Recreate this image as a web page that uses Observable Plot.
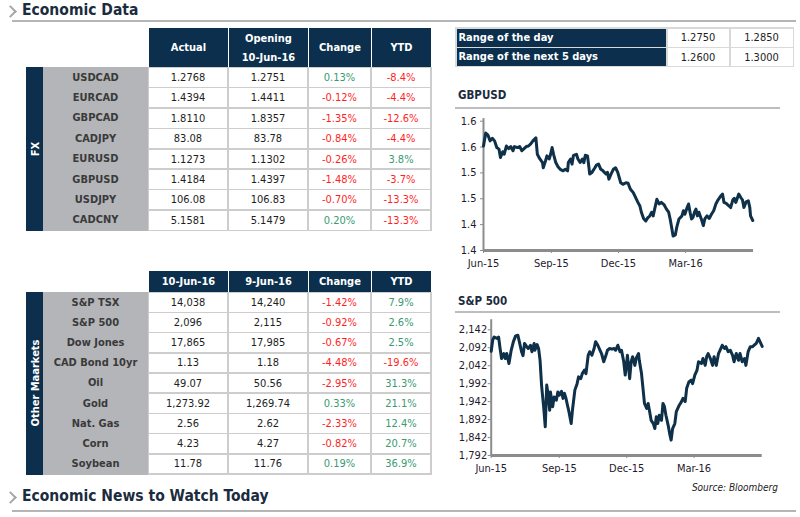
<!DOCTYPE html>
<html><head><meta charset="utf-8">
<script src="https://cdn.jsdelivr.net/npm/d3@7"></script>
<script src="https://cdn.jsdelivr.net/npm/@observablehq/plot@0.6"></script>
<style>
body{margin:0;background:#fff;}
#page{position:relative;width:800px;height:517px;overflow:hidden;background:#fff;
  font-family:"DejaVu Sans Condensed","DejaVu Sans",sans-serif;font-stretch:condensed;}
.abs{position:absolute;box-sizing:border-box;}
.ctr{display:flex;align-items:center;justify-content:center;text-align:center;white-space:nowrap;}
.chev{position:absolute;width:7px;height:7px;border-top:2.5px solid #a6a6a6;border-right:2.5px solid #a6a6a6;transform:rotate(45deg);}
.h1{position:absolute;font-weight:bold;font-size:15.5px;color:#1b2c3e;white-space:nowrap;}
</style></head>
<body><div id="page"></div>
<script>
// ---------------- data ----------------
const fxPairs   = ["USDCAD","EURCAD","GBPCAD","CADJPY","EURUSD","GBPUSD","USDJPY","CADCNY"];
const fxActual  = ["1.2768","1.4394","1.8110","83.08","1.1273","1.4184","106.08","5.1581"];
const fxOpening = ["1.2751","1.4411","1.8357","83.78","1.1302","1.4397","106.83","5.1479"];
const fxChange  = [0.13,-0.12,-1.35,-0.84,-0.26,-1.48,-0.70,0.20];
const fxYtd     = [-8.4,-4.4,-12.6,-4.4,3.8,-3.7,-13.3,-13.3];
const fxHeaders = [["Actual"],["Opening","10-Jun-16"],["Change"],["YTD"]];

const mktNames   = ["S&P TSX","S&P 500","Dow Jones","CAD Bond 10yr","Oil","Gold","Nat. Gas","Corn","Soybean"];
const mktToday   = ["14,038","2,096","17,865","1.13","49.07","1,273.92","2.56","4.23","11.78"];
const mktPrev    = ["14,240","2,115","17,985","1.18","50.56","1,269.74","2.62","4.27","11.76"];
const mktChange  = [-1.42,-0.92,-0.67,-4.48,-2.95,0.33,-2.33,-0.82,0.19];
const mktYtd     = [7.9,2.6,2.5,-19.6,31.3,21.1,12.4,20.7,36.9];
const mktHeaders = [["10-Jun-16"],["9-Jun-16"],["Change"],["YTD"]];

const rangeLabels = ["Range of the day","Range of the next 5 days"];
const rangeLow    = ["1.2750","1.2600"];
const rangeHigh   = ["1.2850","1.3000"];

// chart series: days counted from 10-Jun-15
const gbpDays = [0,3,6,9,12,15,18,21,23,26,28,31,34,37,40,42,46,49,52,55,
  58,61,64,67,71,73,76,80,81,84,86,89,91,93,95,98,101,104,108,111,
  114,115,118,120,122,126,128,131,134,136,138,141,144,147,151,153,156,159,162,166,
  168,170,173,176,179,182,186,189,193,196,199,203,205,209,212,214,217,220,223,225,
  228,230,232,235,238,241,245,248,251,253,255,257,260,262,265,269,271,273,276,278,
  280,282,284,286,288,290,292,295,298,300,303,306,309,312,315,318,322,324,326,329,
  333,335,338,340,342,346,349,351,353,356,359,361,362,365];
const gbpValues = [1.562,1.587,1.583,1.572,1.577,1.572,1.559,1.556,1.540,1.551,
  1.546,1.562,1.557,1.561,1.553,1.561,1.559,1.561,1.553,1.557,
  1.561,1.562,1.566,1.572,1.578,1.546,1.538,1.530,1.520,1.533,
  1.543,1.537,1.546,1.559,1.546,1.530,1.522,1.517,1.514,1.517,
  1.514,1.530,1.537,1.527,1.544,1.546,1.537,1.530,1.537,1.530,
  1.544,1.543,1.508,1.511,1.520,1.525,1.527,1.517,1.514,1.508,
  1.511,1.498,1.508,1.517,1.520,1.511,1.491,1.488,1.491,1.490,
  1.479,1.472,1.466,1.454,1.446,1.434,1.422,1.417,1.424,1.426,
  1.434,1.427,1.440,1.459,1.450,1.453,1.448,1.440,1.434,1.421,
  1.405,1.388,1.390,1.405,1.421,1.427,1.437,1.430,1.443,1.450,
  1.434,1.421,1.424,1.434,1.440,1.427,1.434,1.422,1.408,1.421,
  1.427,1.422,1.430,1.437,1.450,1.458,1.466,1.469,1.453,1.451,
  1.446,1.443,1.458,1.461,1.453,1.469,1.462,1.458,1.443,1.454,
  1.456,1.443,1.427,1.418];
const gbpTicks = [1.36,1.41,1.46,1.51,1.56,1.61];
const gbpTickLabels = ["1.4","1.4","1.5","1.5","1.6","1.6"];

const spxDays = [0,2,4,8,10,12,14,17,19,21,24,27,30,33,36,38,41,43,45,48,
  50,53,55,58,59,62,64,66,68,71,73,75,77,79,80,83,85,88,90,92,
  95,97,99,101,103,105,108,110,113,116,118,121,123,126,128,131,133,136,139,141,
  144,147,149,152,155,157,160,163,166,168,171,174,176,179,181,184,187,189,191,194,
  196,199,200,203,205,207,210,212,214,216,219,221,223,225,227,230,232,234,236,239,
  241,243,245,248,250,252,254,257,259,262,264,267,270,272,275,278,280,284,286,289,
  291,293,296,299,301,304,307,309,312,315,317,320,323,326,328,331,334,336,339,342,
  344,347,350,353,355,358,361,363,366];
const spxValues = [2082,2113,2122,2118,2122,2090,2062,2076,2062,2076,
  2048,2085,2109,2125,2127,2109,2081,2070,2104,2095,
  2090,2099,2081,2104,2085,2101,2090,2057,1988,1923,
  1872,1988,1960,1918,1969,1928,1955,1946,1969,1960,
  1971,1951,1965,1951,1932,1914,1881,1923,1974,1992,
  2011,2006,2020,2030,2020,2071,2081,2071,2090,2109,
  2099,2085,2076,2053,2071,2085,2090,2088,2090,2085,
  2099,2081,2085,2053,2016,2071,2006,2053,2067,2043,
  2064,2076,2057,2020,1979,1937,1923,1937,1914,1890,
  1881,1867,1900,1881,1904,1890,1937,1928,1904,1876,
  1853,1835,1867,1881,1914,1923,1932,1942,1951,1942,
  1979,1997,2002,1992,2016,2030,2053,2048,2062,2043,
  2067,2076,2062,2043,2067,2043,2076,2085,2099,2090,
  2095,2081,2085,2071,2053,2076,2057,2076,2053,2062,
  2043,2081,2095,2095,2099,2104,2118,2109,2096];
const spxTicks = [1792,1842,1892,1942,1992,2042,2092,2142];
const spxTickLabels = ["1,792","1,842","1,892","1,942","1,992","2,042","2,092","2,142"];

const xTickDays = [0,92,183,274];
const xTickLabels = ["Jun-15","Sep-15","Dec-15","Mar-16"];

// ---------------- styles ----------------
const NAVY = "#0b2f4c", SIDE = "#b3b5b8", GRID = "#cdcdcd";
const GREEN = "#3a9a72", RED = "#ff1f1f", TXT = "#1e1e1e";
const page = document.getElementById("page");
function box(x, y, w, h, css, text, cls) {
  const d = document.createElement("div");
  d.className = "abs" + (cls ? " " + cls : "");
  Object.assign(d.style, {left: x + "px", top: y + "px", width: w + "px", height: h + "px"}, css || {});
  if (text != null) {
    if (Array.isArray(text)) text.forEach((t, i) => { if (i) d.appendChild(document.createElement("br")); d.appendChild(document.createTextNode(t)); });
    else d.textContent = text;
  }
  page.appendChild(d);
  return d;
}

// headings
function heading(y, text) {
  const c = document.createElement("div"); c.className = "chev";
  c.style.left = "6px"; c.style.top = (y - 4) + "px"; page.appendChild(c);
  const t = document.createElement("div"); t.className = "h1";
  t.style.left = "22px"; t.style.top = (y - 10) + "px"; t.textContent = text; page.appendChild(t);
}
heading(11, "Economic Data");
box(12, 20, 784, 2, {background: "#b5b5b5"});
heading(497, "Economic News to Watch Today");
box(12, 510, 784, 2, {background: "#b5b5b5"});
box(640, 482, 138, 14, {fontSize: "10px", fontStyle: "italic", color: "#222", textAlign: "right"}, "Source: Bloomberg");

// tables
const colEdges = [148, 228, 308, 371, 431];
function table(hTop, hBot, rowH, sideLabel, names, cols, headers) {
  headers.forEach((h, j) => {
    box(colEdges[j] + 1, hTop, colEdges[j + 1] - colEdges[j] - 1, hBot - hTop,
      {background: NAVY, color: "#fff", fontWeight: "bold", fontSize: "11px", lineHeight: "19px"}, h, "ctr");
  });
  const n = names.length, bodyH = rowH * n;
  box(26, hBot, 17, bodyH + 1, {background: NAVY});
  box(43, hBot, 105, bodyH + 1, {background: SIDE});
  box(148, hBot, 284, bodyH + 1, {background: GRID});
  box(34.5 - 80, hBot + bodyH / 2 - 8, 160, 16,
    {color: "#fff", fontWeight: "bold", fontSize: "11px", transform: "rotate(-90deg)"}, sideLabel, "ctr");
  names.forEach((nm, i) => {
    const y = hBot + i * rowH;
    box(43, y, 105, rowH, {color: "#3a3a3a", fontWeight: "bold", fontSize: "11px"}, nm, "ctr");
    cols.forEach((c, j) => {
      const x0 = colEdges[j], x1 = colEdges[j + 1];
      box(x0 + 1, y + 1, x1 - x0 - 2, rowH - 1.5,
        {background: "#fff", color: c.color ? c.color(i) : TXT, fontSize: "11px"}, c.text(i), "ctr");
    });
  });
}
const pct = (a, d) => i => a[i].toFixed(d) + "%";
const sgn = a => i => a[i] >= 0 ? GREEN : RED;
table(28, 67, 20.4, "FX", fxPairs, [
  {text: i => fxActual[i]}, {text: i => fxOpening[i]},
  {text: pct(fxChange, 2), color: sgn(fxChange)}, {text: pct(fxYtd, 1), color: sgn(fxYtd)}], fxHeaders);
table(271, 292, 20.2, "Other Maarkets", mktNames, [
  {text: i => mktToday[i]}, {text: i => mktPrev[i]},
  {text: pct(mktChange, 2), color: sgn(mktChange)}, {text: pct(mktYtd, 1), color: sgn(mktYtd)}], mktHeaders);

// range table
box(455, 27, 339, 40, {background: "#d9d9d9"});
rangeLabels.forEach((lbl, i) => {
  const y = 28.5 + i * 19.5;
  box(456.5, y, 209, 18, {background: NAVY, color: "#fff", fontWeight: "bold", fontSize: "11px", lineHeight: "18px", paddingLeft: "2px", whiteSpace: "nowrap"}, lbl);
  box(667.5, y, 61, 18, {background: "#fff", color: TXT, fontSize: "11px"}, rangeLow[i], "ctr");
  box(730.5, y, 62, 18, {background: "#fff", color: TXT, fontSize: "11px"}, rangeHigh[i], "ctr");
});

// chart titles
box(458, 88, 120, 16, {fontWeight: "bold", fontSize: "11.5px", color: "#1b2c3e"}, "GBPUSD");
box(455, 107, 325, 1.5, {background: "#bdbdbd"});
box(458, 294, 120, 16, {fontWeight: "bold", fontSize: "11.5px", color: "#1b2c3e"}, "S&P 500");
box(455, 311, 325, 1.5, {background: "#bdbdbd"});

// ---------------- charts ----------------
const T0 = Date.UTC(2015, 5, 10);
const toDate = d => new Date(T0 + d * 864e5);
const xTicks = xTickDays.map(toDate);
const xLab = new Map(xTicks.map((t, i) => [+t, xTickLabels[i]]));

function lineChart(days, values, ticks, tickLabels, yTop, opts) {
  const data = days.map((d, i) => ({date: toDate(d), value: values[i]}));
  const yLab = new Map(ticks.map((t, i) => [t, tickLabels[i]]));
  const lo = ticks[0];
  return Plot.plot({
    width: 330, height: 170,
    marginLeft: opts.ml, marginRight: opts.mr, marginTop: opts.mt, marginBottom: 30,
    style: {fontFamily: '"DejaVu Sans Condensed","DejaVu Sans",sans-serif', fontSize: "11px", background: "transparent", overflow: "visible"},
    x: {type: "utc", domain: [toDate(0), toDate(366)], label: null},
    y: {domain: [lo, ticks[ticks.length - 1]], label: null},
    marks: [
      Plot.ruleX([toDate(0)], {y1: lo, y2: yTop, stroke: "#8c8c8c", strokeWidth: 2}),
      Plot.axisY({ticks, tickFormat: d => yLab.get(d), tickSize: 3, tickPadding: opts.tp,
        stroke: "#8c8c8c", fill: "#1f1a2e", fontSize: 11, label: null}),
      Plot.axisX({ticks: xTicks, tickFormat: d => xLab.get(+d), tickSize: 3, tickPadding: 5.5,
        stroke: "#8c8c8c", fill: "#1f1a2e", fontSize: 11, label: null}),
      Plot.ruleY([lo], {stroke: "#8c8c8c", strokeWidth: 3}),
      Plot.line(data, {x: "date", y: "value", stroke: "#0e3049", strokeWidth: 3, strokeLinejoin: "round"})
    ]
  });
}
const g = lineChart(gbpDays, gbpValues, gbpTicks, gbpTickLabels, 1.615, {ml: 43, mr: 17, mt: 10.7, tp: 4});
Object.assign(g.style, {position: "absolute", left: "440px", top: "110px"});
page.appendChild(g);
const s = lineChart(spxDays, spxValues, spxTicks, spxTickLabels, 2170, {ml: 50.7, mr: 8.3, mt: 14.3, tp: 1});
Object.assign(s.style, {position: "absolute", left: "440px", top: "315px"});
page.appendChild(s);
</script></body></html>
